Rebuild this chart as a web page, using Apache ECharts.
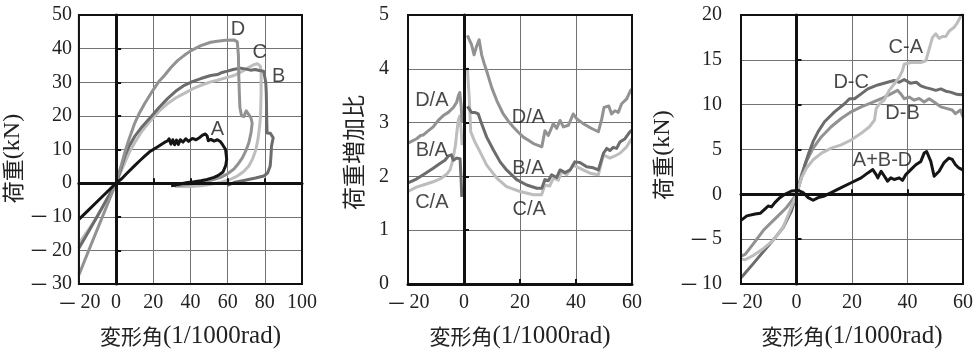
<!DOCTYPE html>
<html><head><meta charset="utf-8">
<script src="https://cdn.jsdelivr.net/npm/echarts@6/dist/echarts.min.js"></script>
<style>html,body{margin:0;padding:0;background:#fff}#c{width:976px;height:354px}</style>
</head><body><div id="c"></div>
<script>
// ---------- Panel 1: load vs drift (kN) ----------
const p1_A = [[-20,-10.8],[-15,-8.1],[-10,-5.4],[-5,-2.7],[0,0],[3,1.3],[6,3],[10,5.2],[13,6.8],[15.4,8],[18,9.3],[20,10],[22,10.7],[24.3,11.5],[26,12.1],[27.8,12.6],[28.5,13.2],[29.5,11.6],[30.5,12.9],[31.5,11.4],[32.5,12.8],[33.5,11.5],[34.5,12.9],[36,12.2],[37.5,13.2],[39,12.4],[41,13.3],[43,12.9],[45,13.6],[46.5,14.3],[48,14.6],[49,14],[49.6,12.6],[51,13],[52.7,12.5],[54.5,12.9],[56,12.4],[57.2,11.5],[58.9,10],[59.5,7.1],[59,5.3],[57.5,3.3],[55,2.3],[52.7,1.7],[49,1.1],[45.6,0.7],[42,0.4],[38.5,0.2],[35,-0.2],[32,-0.6],[29.6,-0.8]];
const p1_B = [[-20,-19.4],[-15,-14.6],[-10,-9.8],[-5,-4.8],[0,0],[2.5,4],[4.7,8],[7,11],[10,13.9],[14,16.8],[18.9,19.8],[23,22.4],[27.8,25.2],[32,27.3],[36.7,29.1],[41,30.2],[45.6,31.1],[50.9,32],[54.5,32.3],[57,32.9],[59.8,33.3],[63,33.8],[66.9,34.2],[70,33.9],[72.3,33.6],[74.9,33.8],[77,33.5],[79.4,33.3],[80.5,30],[80.8,26.7],[81,20],[81.2,14.9],[83,14.8],[84.5,13.5],[83.6,11],[83.3,8],[82.9,5.1],[81.5,3],[79.4,2.1],[75,1.5],[68.7,0.8],[64,0.3],[60.5,-0.5],[60,-0.8]];
const p1_C = [[-20,-17.9],[-15,-14],[-10,-9.7],[-5,-5],[0,0],[2.5,3.3],[4.7,6.1],[7,9],[10,12],[14,15.5],[18.9,18.8],[23,21.3],[27.8,23.7],[32,25.3],[36.7,26.7],[41,28],[45.6,29.1],[50.9,30.1],[54.5,30.6],[59,31.3],[63.4,32],[66,32.7],[68.7,33.5],[71,34.3],[74,35.2],[76,35.5],[77.6,34.8],[78,33],[78,26.7],[77.7,20],[77.2,16.9],[76.3,13],[75.2,10],[73.5,7.3],[71.4,5.1],[68.5,3.4],[65.2,2.1],[61,1],[56.3,0.2],[50,-0.4],[45.6,-0.8],[40,-1],[35,-1],[31.6,-1]];
const p1_D = [[-20,-27.3],[-15,-20.4],[-10,-13.6],[-5,-6.8],[0,0],[1.5,3],[2.9,5.5],[4.5,8.8],[6.5,12.3],[8.2,15],[10,17.8],[12.5,20.8],[15.4,23.7],[19.8,27.6],[23,30.2],[26,32],[29.5,34.4],[33.2,36.5],[36.7,38],[40.3,39.4],[45.6,40.9],[50.9,41.9],[54.5,42.2],[59,42.5],[63.4,42.6],[65.2,42],[65.8,38],[66,32],[66.3,26.7],[66.6,22.5],[67.5,20],[68.7,19.8],[70,21.5],[70.8,21.3],[72.5,19.5],[73.2,17.8],[72.6,15],[71.4,12],[69.7,9.5],[68,7.6],[65.5,5.6],[63.4,4.2],[60,2.8],[56.3,1.7],[52,1],[45.6,0.2],[40,-0.3],[35,-0.6],[33,-0.7]];
const p1_labels = [['D',65.5,45.8],['C',77.2,38.9],['B',87.4,31.8],['A',54.5,16.1]];

// ---------- Panel 2: load increase ratio ----------
const p2_DA_neg = [[-20,2.62],[-19.3,2.64],[-16.9,2.7],[-15.5,2.76],[-14.5,2.77],[-12.7,2.85],[-11,2.92],[-9.2,3.04],[-7.4,3.13],[-5.6,3.19],[-3.8,3.28],[-2.6,3.38],[-2,3.5],[-1.5,3.56],[-1,3.3],[-0.7,3.0]];
const p2_DA_pos = [[1.2,4.62],[1.5,4.6],[2.7,4.45],[3.6,4.26],[4.5,4.42],[5.4,4.54],[6.3,4.26],[7.2,4.1],[8.1,3.96],[9.9,3.65],[11.7,3.41],[14,3.16],[15.8,3.03],[17.6,2.92],[19.4,2.82],[21.2,2.73],[23,2.67],[24.8,2.61],[27.8,2.55],[28.9,2.85],[30.1,2.76],[31.9,2.98],[33.1,2.89],[34.3,3.04],[35.5,2.92],[37.3,2.95],[38.5,3.1],[39,3.16],[40.3,3.07],[42.6,2.98],[45.6,2.89],[48,2.83],[49.2,3.07],[50,3.28],[51.7,3.31],[52.7,3.16],[53.9,3.22],[55.1,3.19],[56.3,3.35],[58.1,3.44],[59.5,3.6],[60,3.62]];
const p2_BA_neg = [[-20,1.88],[-17,1.95],[-14,2.05],[-11,2.15],[-8.6,2.24],[-6.8,2.3],[-5.6,2.38],[-4.5,2.4],[-3.8,2.3],[-2.6,2.34],[-2,2.37],[-1.4,2.33],[-1,1.9],[-0.8,1.62]];
const p2_BA_pos = [[1.2,3.3],[2.7,3.19],[3.8,3.19],[5.1,3.16],[6.3,2.98],[8.1,2.73],[10.5,2.49],[12.9,2.27],[15.2,2.12],[18.8,1.94],[22.4,1.84],[26,1.78],[27.8,1.78],[28.9,1.94],[30.1,1.92],[31.3,2.03],[33.1,1.98],[34.3,2.12],[36.1,2.07],[37.9,2.12],[39.6,2.27],[41.4,2.26],[43.8,2.18],[46.2,2.16],[48,2.12],[49.8,2.43],[51,2.52],[52.1,2.48],[53.3,2.54],[54.5,2.52],[55.7,2.64],[57.5,2.7],[59.3,2.83],[60,2.86]];
const p2_CA_neg = [[-20,1.72],[-17,1.8],[-14,1.85],[-11,1.9],[-8,1.97],[-6,2.05],[-5,2.12],[-4,2.3],[-3,2.6],[-2.5,2.85],[-2,3.05],[-1.5,3.12],[-1,2.85],[-0.7,2.58]];
const p2_CA_pos = [[1.2,4.02],[1.9,3.44],[2.4,2.83],[3.9,2.64],[5.7,2.46],[8.1,2.21],[11.7,1.97],[15.2,1.81],[20,1.72],[24.8,1.66],[27.7,1.66],[28.9,1.84],[30.6,1.82],[31.9,1.97],[33.7,1.93],[34.9,2.09],[36.7,2.03],[39,2.21],[41.4,2.15],[45,2.06],[48,2.03],[49.8,2.4],[52.1,2.34],[53.9,2.38],[55.7,2.43],[58.1,2.55],[59.5,2.67],[60,2.7]];
const p2_labels = [['D/A',-11.5,3.41],['B/A',-11.5,2.49],['C/A',-11.5,1.51],['D/A',23,3.1],['B/A',23,2.15],['C/A',23.3,1.38]];

// ---------- Panel 3: load differences (kN) ----------
const p3_CA = [[-20,-7.2],[-18.5,-7.3],[-15.5,-6.8],[-12,-6.06],[-8.4,-5.14],[-4.8,-3.67],[-2.4,-1.83],[0,0],[1.8,1.84],[3.6,2.94],[6,3.86],[9,4.6],[12.5,5.15],[16.1,5.51],[19.7,6.06],[23.3,6.8],[26.3,7.54],[28.1,8.27],[28.7,9.56],[29.9,10.1],[31.6,10.5],[33.4,11.6],[35.2,12.3],[37,13.05],[38.2,13.8],[38.8,14.5],[41.2,14.7],[44.8,14.7],[46.6,14.9],[47.8,16.2],[49,17.5],[50.2,17.9],[51.4,17.4],[52.6,17.6],[53.8,17.6],[55,18.2],[56.7,18.6],[57.9,19.1],[59.1,19.8],[60,20.2]];
const p3_DC = [[-20,-9.3],[-19.1,-9],[-15.5,-7.7],[-12,-6.4],[-8.4,-5.1],[-4.8,-3.7],[-1.8,-1.83],[0,0],[1.8,1.9],[3,3.3],[4.2,4.4],[6,5.9],[7.8,7],[10.1,8.1],[13.7,9.2],[17.3,10.1],[19.1,10.66],[20.9,10.66],[23.3,11.2],[25.7,11.76],[29.3,12.2],[32.8,12.5],[35.2,12.7],[37,12.5],[38.8,12.8],[41,12.4],[43.2,12.5],[44.8,12.1],[46.6,11.9],[48.4,11.76],[50.2,11.6],[52,11.76],[53.8,11.5],[55.5,11.4],[57.3,11.2],[59.1,11.1],[60,11.2]];
const p3_DB = [[-20,-6.9],[-18.5,-6.7],[-15.5,-5.5],[-12,-4.04],[-9.6,-3.3],[-7.2,-2.57],[-3.6,-1.47],[0,0],[1.8,2.2],[3.6,3.67],[6,5.15],[9,6.43],[12.5,7.54],[16.1,8.46],[19.7,9.2],[23.3,9.75],[26.9,10.2],[30.5,10.66],[34,11.2],[36.4,11.6],[37.6,11.2],[38.8,10.66],[40.6,10.85],[42.4,10.5],[44.2,10.7],[46,10.3],[47.8,10.66],[49.6,10.3],[52,9.75],[54.3,9.56],[56.1,9.4],[57.3,9],[59.1,9.4],[60,8.64]];
const p3_ABD = [[-20,-2.9],[-19.7,-2.75],[-17.9,-2.4],[-14.9,-2.2],[-13,-2.1],[-11.4,-1.65],[-10.2,-1.3],[-9,-1.4],[-7.8,-0.92],[-6,-0.37],[-4.2,0],[-1.8,0.37],[0.6,0.44],[2.4,0.2],[4.2,-0.37],[6,-0.66],[7.8,-0.37],[10.1,-0.18],[12.5,0.18],[16.1,0.74],[19.7,1.29],[23.3,1.84],[25.7,2.39],[27.5,2.76],[28.7,2.2],[29.3,1.84],[30.5,2.57],[31.7,2.02],[32.8,1.47],[34,1.84],[35.2,1.65],[37,1.84],[38.2,1.55],[39.4,2.2],[41.2,2.76],[43,3.3],[44.8,3.67],[46,4.6],[46.9,4.78],[48.4,3.67],[49.6,2.02],[51.4,2.57],[53.1,3.5],[54.9,4.04],[56.1,3.9],[57.3,3.3],[58.5,2.94],[59.7,2.76],[60,2.7]];
const p3_labels = [['C-A',39.4,16.4],['D-C',19.7,12.5],['D-B',38.2,9],['A+B-D',31,3.8]];

// axis text
const xTitleK = '変形角', xTitleL = '(1/1000rad)';
const yTitlesK = ['荷重', '荷重増加比', '荷重'];
const yTitlesL = ['(kN)', '', '(kN)'];
const xRanges = [[-20,100,20],[-20,60,20],[-20,60,20]];
const yRanges = [[-30,50,10],[0,5,1],[-10,20,5]];

const COL = {black:'#151515', dark:'#6c6c6c', mid:'#929292', light:'#bdbdbd'};
const grids = [
  {left:77, top:15, width:225, height:272},
  {left:408, top:15, width:224, height:272},
  {left:741, top:15, width:223, height:272}
];
const yLabelMargin = [7, 19, 19];
const yNameGap = [43, 43, 46];
const yNamePad = [18, 6, 11];
const yNameSize = [22, 23, 22];

const SERIF = '"Liberation Serif", "Times New Roman", serif';
const CJK = '"Noto Sans CJK JP", sans-serif';
const tickRich = {
  m:{fontFamily:CJK, fontSize:20, color:'#222', padding:[0,3,0,0]},
  n:{fontFamily:SERIF, fontSize:20, color:'#222'}
};
const fmt = v => v < 0 ? '{m|\uFF0D}{n|' + (-v) + '}' : '{n|' + v + '}';

const option = {animation:false, grid:[], xAxis:[], yAxis:[], series:[]};
grids.forEach((g,i)=>{
  option.grid.push(Object.assign({show:true, borderColor:'#111', borderWidth:2, z:3, backgroundColor:'rgba(0,0,0,0)'}, g));
  const [xmin,xmax,xint] = xRanges[i], [ymin,ymax,yint] = yRanges[i];
  option.xAxis.push({gridIndex:i, type:'value', min:xmin, max:xmax, interval:xint, position:'bottom',
    axisLine:{show:false, onZero:false}, axisTick:{show:false},
    splitLine:{show:true, lineStyle:{color:'#737373', width:1}},
    axisLabel:{margin:9, formatter:fmt, rich:tickRich, showMinLabel:true, showMaxLabel:true},
    name:'{k|' + xTitleK + '}{l|' + xTitleL + '}', nameLocation:'middle', nameGap:40,
    nameTextStyle:{rich:{k:{fontFamily:CJK, fontSize:21, color:'#222'}, l:{fontFamily:SERIF, fontSize:25, color:'#222'}}}});
  option.xAxis.push({gridIndex:i, type:'value', min:xmin, max:xmax, interval:xint, position:'bottom', z:4,
    axisLine:{show:true, onZero:true, lineStyle:{color:'#111', width:3}},
    axisTick:{show:true, inside:true, length:5, lineStyle:{color:'#111', width:2}},
    axisLabel:{show:false}, splitLine:{show:false}});
  option.yAxis.push({gridIndex:i, type:'value', min:ymin, max:ymax, interval:yint, position:'left',
    axisLine:{show:false, onZero:false}, axisTick:{show:false},
    splitLine:{show:true, lineStyle:{color:'#737373', width:1}},
    axisLabel:{margin:yLabelMargin[i], formatter:fmt, rich:tickRich, showMinLabel:true, showMaxLabel:true},
    name:'{k|' + yTitlesK[i] + '}' + (yTitlesL[i] ? '{l|' + yTitlesL[i] + '}' : ''), nameLocation:'middle', nameGap:yNameGap[i],
    nameTextStyle:{padding:[0,yNamePad[i],0,0], rich:{k:{fontFamily:CJK, fontSize:yNameSize[i], color:'#222'}, l:{fontFamily:SERIF, fontSize:24, color:'#222'}}}});
  option.yAxis.push({gridIndex:i, type:'value', min:ymin, max:ymax, interval:yint, position:'left', z:4,
    axisLine:{show:true, onZero:true, lineStyle:{color:'#111', width:3}},
    axisTick:{show:true, inside:true, length:5, lineStyle:{color:'#111', width:2}},
    axisLabel:{show:false}, splitLine:{show:false}});
});

function line(i, data, color){
  return {type:'line', xAxisIndex:2*i, yAxisIndex:2*i, data:data, showSymbol:false, symbol:'none',
    lineStyle:{color:color, width:3, join:'round'}, itemStyle:{color:color}, z:2, silent:true};
}
function labels(i, arr){
  return {type:'scatter', xAxisIndex:2*i, yAxisIndex:2*i, symbolSize:1, z:5, silent:true,
    itemStyle:{color:'rgba(0,0,0,0)'},
    label:{show:true, position:'inside', formatter:'{b}', fontFamily:'"Liberation Sans", Arial, sans-serif', fontSize:20, color:'#1a1a1a'},
    data: arr.map(a=>({name:a[0], value:[a[1],a[2]]}))};
}
option.series.push(
  line(0,p1_C,COL.light), line(0,p1_B,COL.dark), line(0,p1_D,COL.mid), line(0,p1_A,COL.black), labels(0,p1_labels),
  line(1,p2_CA_neg,COL.light), line(1,p2_CA_pos,COL.light), line(1,p2_BA_neg,COL.dark), line(1,p2_BA_pos,COL.dark),
  line(1,p2_DA_neg,COL.mid), line(1,p2_DA_pos,COL.mid), labels(1,p2_labels),
  line(2,p3_DB,COL.mid), line(2,p3_DC,COL.dark), line(2,p3_CA,COL.light), line(2,p3_ABD,COL.black), labels(2,p3_labels)
);

const chart = echarts.init(document.getElementById('c'), null, {renderer:'canvas'});
chart.setOption(option);
</script>
</body></html>
